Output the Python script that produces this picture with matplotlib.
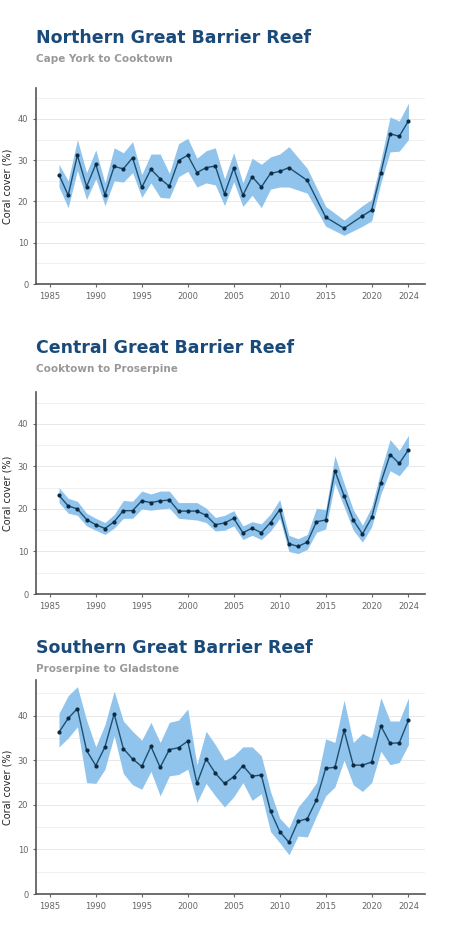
import matplotlib
matplotlib.use("Agg")
import matplotlib.pyplot as plt
import numpy as np

n_years = list(range(1986, 2012)) + [2013, 2015, 2017, 2019, 2020, 2021, 2022, 2023, 2024]
n_val = [26.5, 21.5, 31.2, 23.6, 29.0, 21.6, 28.5, 27.9, 30.6, 23.4, 27.8, 25.5, 23.7, 29.9, 31.2, 27.0,
         28.2, 28.6, 21.8, 28.1, 21.5, 26.0, 23.5, 26.8, 27.3, 28.2, 25.1, 16.2, 13.5, 16.5, 17.9, 27.0,
         36.4, 35.8, 39.5]
n_lo = [23.5, 18.5, 27.5, 20.5, 25.5, 19.0, 25.0, 24.7, 27.0, 21.0, 24.5, 21.0, 20.8, 26.0, 27.3, 23.5,
        24.5, 24.0, 19.0, 24.8, 18.8, 21.5, 18.5, 23.0, 23.5, 23.5, 22.0, 14.0, 11.8, 14.0, 15.3, 24.5,
        32.0, 32.2, 35.0]
n_hi = [29.0, 25.0, 35.0, 27.0, 32.5, 24.5, 33.0, 31.8, 34.5, 26.5, 31.5, 31.5, 26.8, 34.0, 35.3, 30.5,
        32.3, 33.0, 25.5, 31.8, 24.5, 30.5, 29.0, 30.8, 31.5, 33.3, 28.0, 18.8, 15.5, 19.0, 20.5, 30.0,
        40.5, 39.5, 43.8]

c_years = list(range(1986, 2025))
c_val = [23.2, 20.7, 20.0, 17.5, 16.3, 15.4, 17.0, 19.6, 19.6, 21.9, 21.5, 21.9, 22.1, 19.5, 19.5, 19.5,
         18.5, 16.3, 16.7, 17.8, 14.4, 15.5, 14.4, 16.8, 19.8, 11.8, 11.2, 12.2, 17.0, 17.4, 29.0, 23.1,
         17.4, 14.1, 18.0, 26.2, 32.8, 30.7, 33.9]
c_lo = [21.5, 19.0, 18.5, 16.0, 15.0, 14.0, 15.5, 17.8, 17.8, 20.0, 19.7, 20.0, 20.2, 17.8, 17.6, 17.4,
        16.8, 14.8, 15.0, 16.0, 12.8, 13.8, 12.8, 14.8, 17.8, 10.0, 9.5, 10.5, 14.5, 15.3, 26.0, 20.5,
        15.0, 12.2, 15.8, 23.5, 29.0, 27.8, 30.5]
c_hi = [25.0, 22.5, 21.8, 19.0, 17.8, 16.8, 18.7, 22.0, 21.8, 24.2, 23.5, 24.2, 24.2, 21.5, 21.5, 21.5,
        20.2, 18.0, 18.5, 19.6, 16.0, 17.0, 16.5, 18.8, 22.2, 13.8, 13.0, 14.0, 20.2, 19.8, 32.5, 26.0,
        19.8, 16.2, 20.5, 29.0, 36.3, 33.8, 37.3]

s_years = list(range(1986, 2025))
s_val = [36.3, 39.4, 41.6, 32.2, 28.8, 33.0, 40.4, 32.6, 30.3, 28.6, 33.1, 28.4, 32.4, 32.8, 34.3, 24.8,
         30.3, 27.1, 24.8, 26.3, 28.8, 26.4, 26.7, 18.6, 14.0, 11.6, 16.3, 16.9, 21.1, 28.2, 28.4, 36.7,
         28.9, 28.9, 29.6, 37.7, 33.8, 33.9, 39.0]
s_lo = [33.0, 35.0, 37.5, 25.0, 24.8, 28.0, 35.5, 27.0, 24.5, 23.5, 27.5, 22.0, 26.5, 26.8, 28.0, 20.5,
        24.8, 22.0, 19.5, 21.8, 25.0, 21.0, 22.5, 14.0, 11.5, 8.8, 13.0, 12.8, 17.5, 22.0, 24.0, 30.0,
        24.5, 23.0, 25.0, 32.0, 29.0, 29.5, 33.5]
s_hi = [40.5, 44.5, 46.5, 39.0, 33.0, 38.0, 45.5, 38.8, 36.5, 34.5, 38.5, 34.0, 38.5, 39.0, 41.5, 29.0,
        36.5, 33.5, 30.0, 31.0, 33.0, 33.0, 31.0, 23.0, 17.0, 14.8, 19.5, 22.0, 25.0, 34.8, 34.0, 43.5,
        34.0, 36.0, 35.0, 44.0, 38.8, 38.8, 44.0]

titles = ["Northern Great Barrier Reef", "Central Great Barrier Reef", "Southern Great Barrier Reef"]
subtitles = ["Cape York to Cooktown", "Cooktown to Proserpine", "Proserpine to Gladstone"]
xticks = [1985, 1990, 1995, 2000, 2005, 2010, 2015, 2020, 2024]
yticks = [0, 10, 20, 30, 40]

data = [(n_years, n_val, n_lo, n_hi), (c_years, c_val, c_lo, c_hi), (s_years, s_val, s_lo, s_hi)]

W, H = 469, 941
fig = plt.figure(figsize=(W / 100, H / 100), dpi=100)
# (axes top px, axes bottom px, title y px)
layout = [(88, 284, 38), (392, 594, 348), (680, 894, 648)]
for (yrs, v, lo, hi), t, st, (top, bot, ty) in zip(data, titles, subtitles, layout):
    ax = fig.add_axes([36 / W, 1 - bot / H, (425 - 36) / W, (bot - top) / H])
    ax.fill_between(yrs, lo, hi, color="#90c4ec", linewidth=0)
    ax.plot(yrs, v, color="#1d4f73", lw=1.0, marker="o", ms=2, mfc="#0d2a40", mec="#0d2a40")
    ax.set_xlim(1983.5, 2025.8)
    ax.set_ylim(0, 47.5 if top != 680 else 48)
    for g in range(5, 50, 5):
        ax.axhline(g, color="#eeeeee" if g % 10 else "#e4e4e4", lw=0.6, zorder=0)
    ax.set_xticks(xticks)
    ax.set_yticks(yticks)
    ax.tick_params(labelsize=6, colors="#666666", length=2)
    for s in ["top", "right"]:
        ax.spines[s].set_visible(False)
    for s in ["left", "bottom"]:
        ax.spines[s].set_color("#555555")
        ax.spines[s].set_linewidth(1.2)
    ax.set_ylabel("Coral cover (%)", fontsize=7, color="#222222", labelpad=4)
    fig.text(36 / W, 1 - ty / H, t, fontsize=12.5, fontweight="bold", color="#1a4a7a", va="center")
    fig.text(36 / W, 1 - (ty + 21) / H, st, fontsize=7.5, fontweight="bold", color="#999999", va="center")

fig.savefig("out.png", dpi=100, facecolor="white")
